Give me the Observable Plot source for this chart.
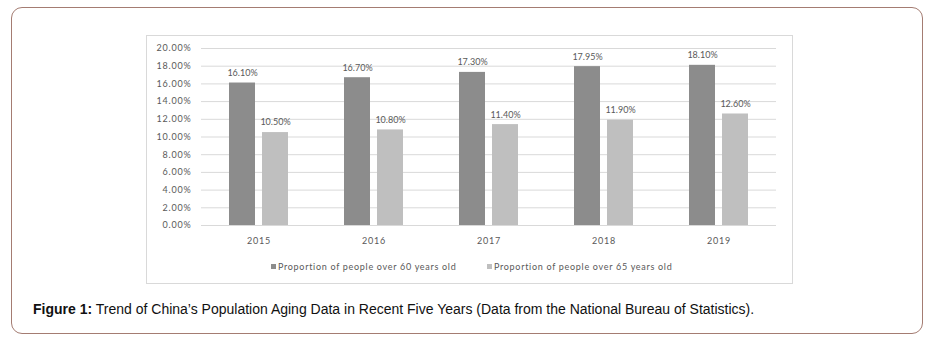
<!DOCTYPE html>
<html><head><meta charset="utf-8">
<script src="https://cdn.jsdelivr.net/npm/d3@7"></script>
<script src="https://cdn.jsdelivr.net/npm/@observablehq/plot@0.6"></script>
<style>
html,body{margin:0;padding:0;background:#fff}
body{width:936px;height:344px;position:relative;overflow:hidden;font-family:"Liberation Sans",Arial,sans-serif}
#frame{position:absolute;left:11px;top:7px;width:912px;height:327px;border:1px solid #a47c72;border-radius:11px;box-sizing:border-box}
#box{position:absolute;left:146px;top:35px;width:647px;height:249px;border:1px solid #d9d9d9;box-sizing:border-box}
#chart{position:absolute;left:-2px;top:0}
#chart svg g[aria-label="y-axis tick label"], #chart svg g[aria-label="fx-axis tick label"]{letter-spacing:0.8px}
.li{position:absolute;top:225px;font-family:Lato,"Open Sans",sans-serif;font-size:9px;letter-spacing:0.7px;color:#595959;white-space:nowrap;line-height:12px}
.sw{display:inline-block;width:5px;height:5px;margin-right:2px;vertical-align:1px}
#caption{position:absolute;left:33px;top:301px;font-size:14px;color:#111;white-space:nowrap}
</style></head>
<body>
<div id="frame"></div>
<div id="box"><div id="chart"></div>
<div class="li" style="left:124px"><span class="sw" style="background:#8c8c8c"></span>Proportion of people over 60 years old</div>
<div class="li" style="left:340px"><span class="sw" style="background:#bfbfbf"></span>Proportion of people over 65 years old</div>
</div>
<div id="caption"><b>Figure 1:</b> Trend of China’s Population Aging Data in Recent Five Years (Data from the National Bureau of Statistics).</div>
<script>
const years = ["2015","2016","2017","2018","2019"];
const series = ["Proportion of people over 60 years old","Proportion of people over 65 years old"];
const over60 = [16.10, 16.70, 17.30, 17.95, 18.10];
const over65 = [10.50, 10.80, 11.40, 11.90, 12.60];
const yTicks = [0,2,4,6,8,10,12,14,16,18,20];
const colors = ["#8c8c8c","#bfbfbf"];

const data = [];
years.forEach((y,i)=>{
  data.push({year:y, series:series[0], value:over60[i]});
  data.push({year:y, series:series[1], value:over65[i]});
});

const chart = Plot.plot({
  width: 647, height: 215,
  marginLeft: 54, marginRight: 14, marginTop: 12, marginBottom: 26,
  style: {fontFamily: "Lato, 'Open Sans', sans-serif", fontSize: "9px", color: "#595959", background: "transparent"},
  fx: {domain: years, padding: 0, label: null, axis: "bottom", tickSize: 0, tickPadding: 12},
  x: {domain: series, axis: null, paddingInner: 0.22, paddingOuter: 0.81},
  y: {domain: [0,20], ticks: yTicks, tickFormat: d => d.toFixed(2) + "%", label: null, tickSize: 0, tickPadding: 10},
  color: {domain: series, range: colors},
  marks: [
    Plot.ruleY(yTicks, {stroke: "#d9d9d9", strokeWidth: 1}),
    Plot.barY(data, {fx: "year", x: "series", y: "value", fill: "series"}),
    Plot.text(data, {fx: "year", x: "series", y: "value", text: d => d.value.toFixed(2) + "%", dy: -10, fill: "#595959"})
  ]
});
document.getElementById("chart").appendChild(chart);
</script>
</body></html>
